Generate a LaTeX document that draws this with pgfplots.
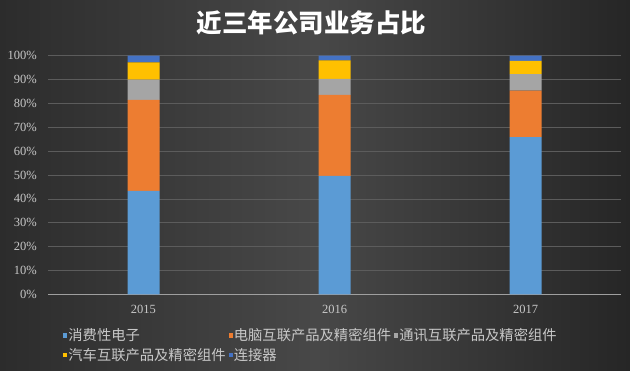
\documentclass[border=0pt]{standalone}
\usepackage{pgfplots}
\pgfplotsset{compat=1.18}
\usepackage{fontspec}
\setmainfont{Liberation Serif}
\newfontfamily\cjk{Noto Sans CJK SC}
\definecolor{cA}{HTML}{5B9BD5}
\definecolor{cB}{HTML}{ED7D31}
\definecolor{cC}{HTML}{A5A5A5}
\definecolor{cD}{HTML}{FFC000}
\definecolor{cE}{HTML}{4472C4}
\definecolor{txt}{HTML}{C8C8C8}
\definecolor{bgL}{HTML}{2C2C2C}
\definecolor{bgM}{HTML}{484848}
\definecolor{bgR}{HTML}{262626}
\definecolor{gridc}{HTML}{5C5C5C}
\begin{document}
\begin{tikzpicture}[x=1pt,y=1pt]
\shade[left color=bgL, right color=bgR, middle color=bgM] (0,0) rectangle (630,370);
\useasboundingbox (0,0) rectangle (630,370);
\node[text=white, font=\cjk\bfseries\fontsize{25.5}{30}\selectfont] at (311.7,347) {近三年公司业务占比};
\begin{axis}[
  at={(48pt,75.7pt)}, anchor=south west,
  scale only axis, width=573pt, height=238.6pt,
  ybar stacked, bar width=32pt,
  xmin=-0.5, xmax=2.5, ymin=0, ymax=100,
  xtick={0,1,2}, xticklabels={2015,2016,2017},
  ytick={0,10,...,100},
  yticklabel={\pgfmathprintnumber[assume math mode=true]{\tick}\%},
  ymajorgrids, grid style={gridc, line width=0.6pt},
  axis x line*=bottom, axis y line*=left,
  x axis line style={draw=gray!75, line width=0.8pt, -},
  y axis line style={draw=none},
  major tick length=0pt,
  tick label style={text=txt, font=\fontsize{12.5}{14}\selectfont},
  yticklabel style={anchor=east, inner sep=0pt, xshift=-11pt},
  xticklabel style={anchor=north, inner sep=0pt, yshift=-11pt},
  legend columns=3,
  legend style={at={(0,0)}, anchor=north west, xshift=12pt, yshift=-31pt,
    draw=none, fill=none, text=txt, font=\cjk\fontsize{14.3}{16}\selectfont,
    column sep=0pt, row sep=4pt,
    /tikz/every even column/.append style={column sep=2pt},
    nodes={inner sep=1pt}},
  legend image code/.code={\fill[#1] (0pt,-2.2pt) rectangle (4.2pt,2.2pt);},
  legend cell align=left,
]
\addplot[fill=cA, draw=none] coordinates {(0,43.3) (1,49.6) (2,65.9)};
\addplot[fill=cB, draw=none] coordinates {(0,38.2) (1,34.0) (2,19.5)};
\addplot[fill=cC, draw=none] coordinates {(0,8.5) (1,6.7) (2,6.9)};
\addplot[fill=cD, draw=none] coordinates {(0,7.2) (1,7.7) (2,5.5)};
\addplot[fill=cE, draw=none] coordinates {(0,2.8) (1,2.0) (2,2.2)};
\legend{消费性电子,电脑互联产品及精密组件,通讯互联产品及精密组件,汽车互联产品及精密组件,连接器}
\end{axis}
\end{tikzpicture}
\end{document}
